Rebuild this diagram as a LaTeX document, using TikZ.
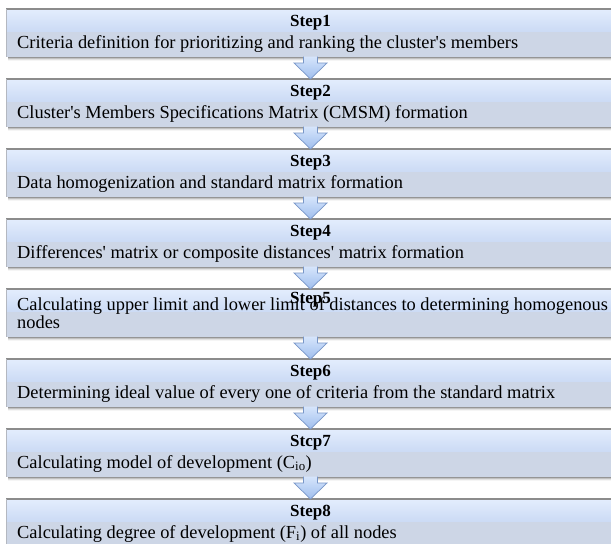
\documentclass[tikz,border=0pt]{standalone}
\usepackage{fontspec}
\setmainfont{Liberation Serif}
\usetikzlibrary{calc}
\definecolor{hdtop}{HTML}{E3EDFD}
\definecolor{hdbot}{HTML}{CCDBF5}
\definecolor{txband}{HTML}{CDD6E6}
\definecolor{topline}{HTML}{8C8C8C}
\definecolor{sideline}{HTML}{B4B8C0}
\definecolor{arrtop}{HTML}{D6E5FB}
\definecolor{arrbot}{HTML}{9FBEEE}
\definecolor{arredge}{HTML}{7896C8}
\tikzset{
  stepbox/.style={anchor=north west, minimum width=609pt, minimum height=47.5pt,
    inner sep=0pt, outer sep=0pt, fill=txband},
  steplabel/.style={font=\fontsize{17}{17}\selectfont\bfseries, inner sep=0pt, anchor=base},
  steptext/.style={font=\fontsize{18.4}{18}\selectfont, inner sep=0pt, anchor=base west, align=left},
  arrowfill/.style={top color=arrtop, bottom color=arrbot},
  arrowedge/.style={draw=arredge, line width=0.7pt, line join=miter},
}
\newcommand{\flowstep}[6]{%
  \node[stepbox] (b#1) at (6,-#2) {};
  \shade[top color=hdtop,bottom color=hdbot] (b#1.north west) rectangle ($(b#1.north east)+(0,-22)$);
  \foreach \kk/\oo in {1/0.22,2/0.14,3/0.08,4/0.04}
    \fill[black,opacity=\oo] ($(b#1.south west)+(2,0)$) rectangle ($(b#1.south east)+(0,-\kk)$);
  \draw[topline,line width=1.3pt] (b#1.north west) -- (b#1.north east);
  \draw[sideline,line width=0.6pt] (b#1.north west) -- (b#1.south west);
  \node[steplabel] (s#1) at ($(b#1.north)+(0,-#4)$) {#3};
  \node[steptext] (t#1) at ($(b#1.north west)+(11,-#6)$) {#5};
}
\newcommand{\flowarrow}[2]{%
  \shade[arrowfill] ($(b#1.south)+(-7,0)$) -- ($(b#1.south)+(-7,-6.5)$) -- ($(b#1.south)+(-16.5,-6.5)$)
    -- (b#2.north) -- ($(b#1.south)+(16.5,-6.5)$) -- ($(b#1.south)+(7,-6.5)$) -- ($(b#1.south)+(7,0)$) -- cycle;
  \draw[arrowedge] ($(b#1.south)+(-7,0)$) -- ($(b#1.south)+(-7,-6.5)$) -- ($(b#1.south)+(-16.5,-6.5)$)
    -- (b#2.north) -- ($(b#1.south)+(16.5,-6.5)$) -- ($(b#1.south)+(7,-6.5)$) -- ($(b#1.south)+(7,0)$);
}
\newcommand{\sq}{\textquotesingle}
\begin{document}
\begin{tikzpicture}[x=1pt,y=1pt]
\useasboundingbox (0,0) rectangle (611,-544);
\clip (0,0) rectangle (611,-544);
\fill[white] (0,0) rectangle (611,-544);
\flowstep{1}{9}{Step1}{17.7}{Criteria definition for prioritizing and ranking the cluster\sq s members}{39}
\flowstep{2}{79}{Step2}{17.7}{Cluster\sq s Members Specifications Matrix (CMSM) formation}{39}
\flowstep{3}{149}{Step3}{17.7}{Data homogenization and standard matrix formation}{39}
\flowstep{4}{219}{Step4}{17.7}{Differences\sq{} matrix or composite distances\sq{} matrix formation}{39}
\flowstep{5}{289}{Step5}{14.5}{Calculating upper limit and lower limit of distances to determining homogenous\\nodes}{39}
\flowstep{6}{359}{Step6}{17.7}{Determining ideal value of every one of criteria from the standard matrix}{39}
\flowstep{7}{429}{Stcp7}{17.7}{Calculating model of development (C\textsubscript{io})}{39}
\flowstep{8}{499}{Step8}{17.7}{Calculating degree of development (F\textsubscript{i}) of all nodes}{39}
\flowarrow{1}{2}
\flowarrow{2}{3}
\flowarrow{3}{4}
\flowarrow{4}{5}
\flowarrow{5}{6}
\flowarrow{6}{7}
\flowarrow{7}{8}
\end{tikzpicture}
\end{document}
